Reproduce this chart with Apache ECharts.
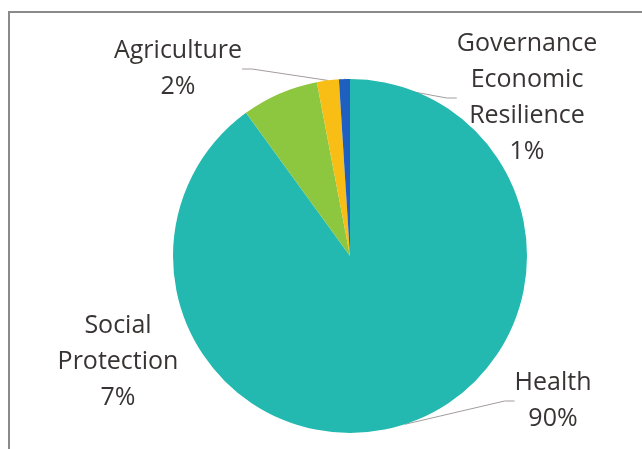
<!DOCTYPE html>
<html>
<head>
<meta charset="utf-8">
<script src="https://cdn.jsdelivr.net/npm/echarts@6/dist/echarts.min.js"></script>
<style>
  html, body { margin: 0; padding: 0; background: #fff; }
  #chart { width: 642px; height: 449px; }
</style>
</head>
<body>
<div id="chart"></div>
<script>
const sectors = ['Health', 'Social\nProtection', 'Agriculture', 'Governance\nEconomic\nResilience'];
const shares = [90, 7, 2, 1];
const colors = ['#23B8B0', '#8DC63F', '#F8BE16', '#1F5FBF'];

// where each label block is centred
const labelSpots = [[553, 401], [118, 362], [178, 69], [527, 98]];

const chart = echarts.init(document.getElementById('chart'));

chart.setOption({
  animation: false,
  graphic: [{
    type: 'polyline',
    shape: { points: [[9, 449], [9, 12], [642, 12]] },
    style: { stroke: '#8a8a8a', lineWidth: 2, fill: null }
  }],
  series: [{
    type: 'pie',
    center: [350, 256],
    radius: 177,
    startAngle: 90,
    clockwise: true,
    data: sectors.map((name, i) => ({
      name,
      value: shares[i],
      itemStyle: { color: colors[i] },
      labelLine: { show: i !== 1 }
    })),
    label: {
      show: true,
      formatter: (p) => p.name + '\n' + p.value + '%',
      fontFamily: 'Open Sans',
      fontSize: 25,
      lineHeight: 36,
      color: '#383434',
      align: 'center'
    },
    labelLine: {
      show: true,
      length: 10,
      length2: 10,
      lineStyle: { color: '#a39c9c', width: 1 }
    },
    labelLayout: (params) => ({
      x: labelSpots[params.dataIndex][0],
      y: labelSpots[params.dataIndex][1],
      align: 'center',
      verticalAlign: 'middle'
    })
  }]
});
</script>
</body>
</html>
